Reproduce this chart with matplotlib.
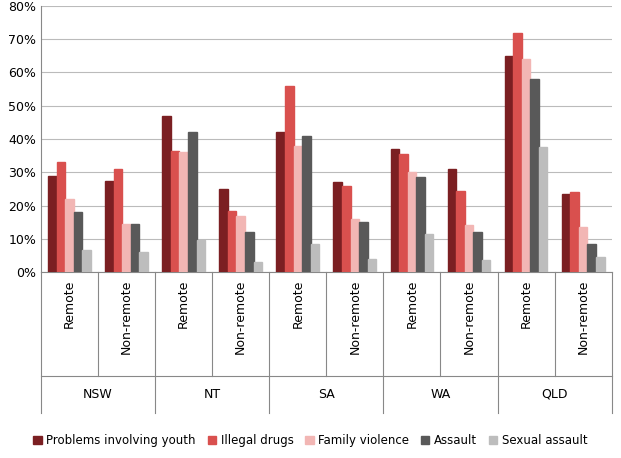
import matplotlib.pyplot as plt
import numpy as np

states = ["NSW", "NT", "SA", "WA", "QLD"]
subcats = ["Remote", "Non-remote"]
series = ["Problems involving youth", "Illegal drugs", "Family violence", "Assault", "Sexual assault"]
youth  = [29, 27.5, 47, 25, 42, 27, 37, 31, 65, 23.5]
drugs  = [33, 31, 36.5, 18.5, 56, 26, 35.5, 24.5, 72, 24]
family = [22, 14.5, 36, 17, 38, 16, 30, 14, 64, 13.5]
assault= [18, 14.5, 42, 12, 41, 15, 28.5, 12, 58, 8.5]
sexual = [6.5, 6, 9.5, 3, 8.5, 4, 11.5, 3.5, 37.5, 4.5]
colors = ["#7B1F22", "#D9504E", "#F2B6B4", "#595959", "#BDBDBD"]

fig = plt.figure(figsize=(6.21, 4.58), dpi=100)
ax = fig.add_axes([0.066, 0.406, 0.919, 0.581])
x = np.arange(10)
w = 0.15
for i, (vals, c) in enumerate(zip([youth, drugs, family, assault, sexual], colors)):
    ax.bar(x + (i - 2) * w, vals, w, color=c, label=series[i], zorder=3,
           edgecolor=c)
ax.set_ylim(0, 80)
ax.set_xlim(-0.5, 9.5)
ax.set_yticks(range(0, 81, 10))
ax.set_yticklabels([f"{v}%" for v in range(0, 81, 10)], fontsize=9)
ax.grid(axis="y", color="#BBBBBB", lw=0.8, zorder=0)
ax.set_xticks([])
for s in ["top", "right"]:
    ax.spines[s].set_visible(False)
ax.spines["left"].set_color("#888888")
ax.spines["bottom"].set_color("#888888")
ax.tick_params(axis="y", length=0)

trans = ax.get_xaxis_transform()
# separators
for b in np.arange(-0.5, 10, 2):
    ax.plot([b, b], [0, -0.53], transform=trans, color="#888888", lw=0.8, clip_on=False)
for b in np.arange(0.5, 10, 2):
    ax.plot([b, b], [0, -0.39], transform=trans, color="#888888", lw=0.8, clip_on=False)
ax.plot([-0.5, 9.5], [-0.39, -0.39], transform=trans, color="#888888", lw=0.8, clip_on=False)
for i in range(10):
    ax.text(i, -0.03, subcats[i % 2], transform=trans, rotation=90, ha="center", va="top", fontsize=9)
for j, s in enumerate(states):
    ax.text(2 * j + 0.5, -0.46, s, transform=trans, ha="center", va="center", fontsize=9)

fig.legend(loc="lower center", ncol=5, frameon=False, fontsize=8.5, bbox_to_anchor=(0.5, 0.0),
           handlelength=0.7, handleheight=0.7, columnspacing=1.0, handletextpad=0.4)
fig.savefig("out.png", dpi=100)
